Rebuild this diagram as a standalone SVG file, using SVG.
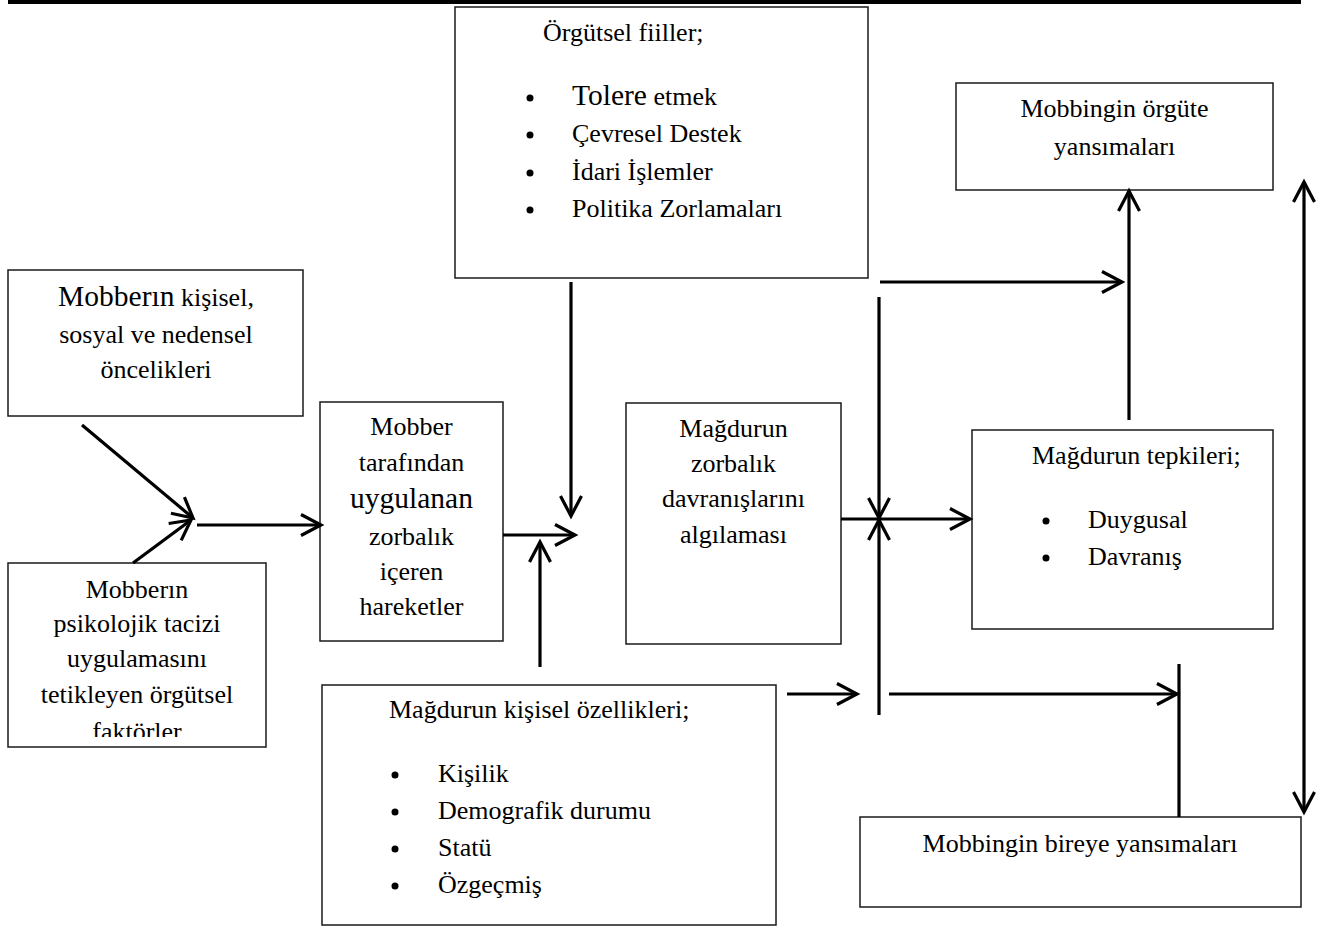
<svg xmlns="http://www.w3.org/2000/svg" width="1323" height="926" viewBox="0 0 1323 926">
<style>
.box{fill:#fff;stroke:#1a1a1a;stroke-width:1.5}
.t{font-family:"Liberation Serif","Times New Roman",serif;font-size:26px;fill:#000}
.c{text-anchor:middle}
.big{font-size:29.5px}
.cn{fill:none;stroke:#000;stroke-width:3.2;marker-end:url(#ah)}
.ln{fill:none;stroke:#000;stroke-width:3.2}
.dot{fill:#000}
</style>
<defs>
<marker id="ah" markerUnits="userSpaceOnUse" viewBox="-24 -14 28 28" refX="0" refY="0" markerWidth="28" markerHeight="28" orient="auto-start-reverse" overflow="visible">
<path d="M-20,-10.5 L0,0 L-20,10.5" fill="none" stroke="#000" stroke-width="3.2"/>
</marker>
<clipPath id="clipB"><rect x="8" y="563" width="258" height="174"/></clipPath>
</defs>
<rect x="8" y="0" width="1293" height="4" fill="#000"/>

<g id="orgutsel-fiiller">
<rect class="box" x="455" y="7" width="413" height="271"/>
<text class="t" x="543" y="41">Örgütsel fiiller;</text>
<circle class="dot" cx="530" cy="98" r="3.5"/>
<circle class="dot" cx="530" cy="135" r="3.5"/>
<circle class="dot" cx="530" cy="173" r="3.5"/>
<circle class="dot" cx="530" cy="210" r="3.5"/>
<text class="t" x="572" y="105"><tspan class="big">Tolere</tspan> etmek</text>
<text class="t" x="572" y="142">Çevresel Destek</text>
<text class="t" x="572" y="180">İdari İşlemler</text>
<text class="t" x="572" y="217">Politika Zorlamaları</text>
</g>

<g id="mobber-oncelikleri">
<rect class="box" x="8" y="270" width="295" height="146"/>
<text class="t c" x="156" y="306"><tspan class="big">Mobberın</tspan> kişisel,</text>
<text class="t c" x="156" y="343">sosyal ve nedensel</text>
<text class="t c" x="156" y="378">öncelikleri</text>
</g>

<g id="orgutsel-faktorler">
<rect class="box" x="8" y="563" width="258" height="184"/>
<g clip-path="url(#clipB)">
<text class="t c" x="137" y="598">Mobberın</text>
<text class="t c" x="137" y="632">psikolojik tacizi</text>
<text class="t c" x="137" y="667">uygulamasını</text>
<text class="t c" x="137" y="703">tetikleyen örgütsel</text>
<text class="t c" x="137" y="740">faktörler</text>
</g>
</g>

<g id="zorbalik-hareketler">
<rect class="box" x="320" y="402" width="183" height="239"/>
<text class="t c" x="411.5" y="435">Mobber</text>
<text class="t c" x="411.5" y="471">tarafından</text>
<text class="t c big" x="411.5" y="508">uygulanan</text>
<text class="t c" x="411.5" y="545">zorbalık</text>
<text class="t c" x="411.5" y="580">içeren</text>
<text class="t c" x="411.5" y="615">hareketler</text>
</g>

<g id="magdur-ozellikleri">
<rect class="box" x="322" y="685" width="454" height="240"/>
<text class="t" x="389" y="718">Mağdurun kişisel özellikleri;</text>
<circle class="dot" cx="395" cy="775" r="3.5"/>
<circle class="dot" cx="395" cy="812" r="3.5"/>
<circle class="dot" cx="395" cy="849" r="3.5"/>
<circle class="dot" cx="395" cy="886" r="3.5"/>
<text class="t" x="438" y="782">Kişilik</text>
<text class="t" x="438" y="819">Demografik durumu</text>
<text class="t" x="438" y="856">Statü</text>
<text class="t" x="438" y="893">Özgeçmiş</text>
</g>

<g id="magdur-algilamasi">
<rect class="box" x="626" y="403" width="215" height="241"/>
<text class="t c" x="733.5" y="437">Mağdurun</text>
<text class="t c" x="733.5" y="472">zorbalık</text>
<text class="t c" x="733.5" y="507">davranışlarını</text>
<text class="t c" x="733.5" y="543">algılaması</text>
</g>

<g id="magdur-tepkileri">
<rect class="box" x="972" y="430" width="301" height="199"/>
<text class="t" x="1032" y="464">Mağdurun tepkileri;</text>
<circle class="dot" cx="1046" cy="521" r="3.5"/>
<circle class="dot" cx="1046" cy="558" r="3.5"/>
<text class="t" x="1088" y="528">Duygusal</text>
<text class="t" x="1088" y="565">Davranış</text>
</g>

<g id="orgute-yansimalari">
<rect class="box" x="956" y="83" width="317" height="107"/>
<text class="t c" x="1114.5" y="117">Mobbingin örgüte</text>
<text class="t c" x="1114.5" y="155">yansımaları</text>
</g>

<g id="bireye-yansimalari">
<rect class="box" x="860" y="817" width="441" height="90"/>
<text class="t c" x="1080" y="852">Mobbingin bireye yansımaları</text>
</g>

<g id="connectors">
<line class="cn" x1="82" y1="425" x2="193" y2="518"/>
<line class="cn" x1="133" y1="563" x2="191" y2="520"/>
<line class="cn" x1="197" y1="525" x2="321" y2="525"/>
<line class="cn" x1="571" y1="282" x2="571" y2="516"/>
<line class="cn" x1="503" y1="535" x2="575" y2="535"/>
<line class="cn" x1="540" y1="667" x2="540" y2="542"/>
<line class="cn" x1="841" y1="519" x2="970" y2="519"/>
<line class="cn" x1="879" y1="297" x2="879" y2="518"/>
<line class="cn" x1="879" y1="715" x2="879" y2="520"/>
<line class="cn" x1="880" y1="282" x2="1122" y2="282"/>
<line class="cn" x1="1129" y1="420" x2="1129" y2="191"/>
<line class="cn" x1="1304" y1="182" x2="1304" y2="812" style="marker-start:url(#ah)"/>
<line class="cn" x1="787" y1="694" x2="857" y2="694"/>
<line class="cn" x1="889" y1="694" x2="1177" y2="694"/>
<line class="ln" x1="1179" y1="664" x2="1179" y2="817"/>
</g>
</svg>
